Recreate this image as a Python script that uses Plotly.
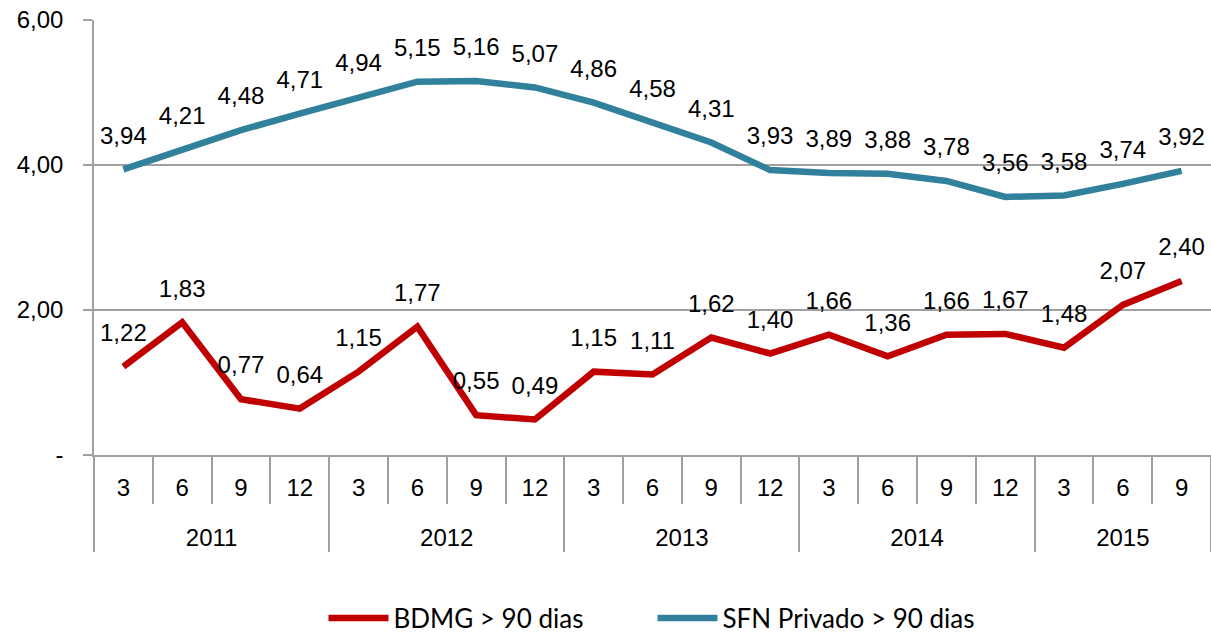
import plotly.graph_objects as go

years = ["2011"] * 4 + ["2012"] * 4 + ["2013"] * 4 + ["2014"] * 4 + ["2015"] * 3
months = ["3", "6", "9", "12"] * 4 + ["3", "6", "9"]
bdmg = [1.22, 1.83, 0.77, 0.64, 1.15, 1.77, 0.55, 0.49, 1.15, 1.11, 1.62, 1.40,
        1.66, 1.36, 1.66, 1.67, 1.48, 2.07, 2.40]
sfn = [3.94, 4.21, 4.48, 4.71, 4.94, 5.15, 5.16, 5.07, 4.86, 4.58, 4.31, 3.93,
       3.89, 3.88, 3.78, 3.56, 3.58, 3.74, 3.92]
y_tickvals = [0, 2, 4, 6]
y_ticktext = ["-", "2,00", "4,00", "6,00"]

def fmt(v):
    return f"{v:.2f}".replace(".", ",")

RED = "#C00000"
BLUE = "#31809C"
GRID = "#A0A0A0"
FONT = "Liberation Sans, Arial, sans-serif"

# inner labels with an extra blank line to push the year row lower
month_cats = [m + "<br> " for m in months]
xcats = [years, month_cats]

fig = go.Figure()
for name, vals, col in [("BDMG > 90 dias", bdmg, RED), ("SFN Privado > 90 dias", sfn, BLUE)]:
    fig.add_trace(go.Scatter(
        x=xcats, y=vals, name=name, mode="lines",
        line=dict(color=col, width=6.5), hoverinfo="skip",
    ))
for vals in [bdmg, sfn]:
    fig.add_trace(go.Scatter(
        x=xcats, y=vals, mode="markers+text", showlegend=False,
        marker=dict(size=30, opacity=0),
        text=[fmt(v) for v in vals], textposition="top center",
        textfont=dict(family=FONT, size=24, color="black"),
        cliponaxis=False, hoverinfo="skip",
    ))

fig.update_layout(
    width=1211, height=633,
    margin=dict(l=94, r=0, t=20, b=178),
    paper_bgcolor="white", plot_bgcolor="white",
    font=dict(family=FONT, size=24, color="black"),
    showlegend=True,
    legend=dict(orientation="h", x=0.5, xanchor="center",
                yref="container", y=1 - 618 / 633, yanchor="middle",
                font=dict(family="Lato, sans-serif", size=26, color="black"),
                itemwidth=60, entrywidth=254, entrywidthmode="pixels",
                traceorder="normal"),
    xaxis=dict(
        type="multicategory", showline=True, linecolor=GRID, linewidth=1.5,
        ticks="outside", tickson="boundaries", ticklen=47, tickcolor=GRID, tickwidth=1.5,
        showdividers=True, dividercolor=GRID, dividerwidth=1.5,
        tickfont=dict(family=FONT, size=24), showgrid=False, range=[-0.5, 18.5],
        ticklabelstandoff=10,
    ),
    yaxis=dict(
        range=[0, 6], tickvals=y_tickvals, ticktext=y_ticktext,
        showgrid=True, gridcolor=GRID, gridwidth=1.5,
        showline=True, linecolor=GRID, linewidth=1.5,
        ticks="outside", ticklen=9, tickcolor=GRID, tickwidth=1.5,
        tickfont=dict(family=FONT, size=24), ticklabelstandoff=15,
        zeroline=False,
    ),
)

fig.write_html("out.html", config={"displayModeBar": False},
               post_script="document.body.style.margin='0';")
